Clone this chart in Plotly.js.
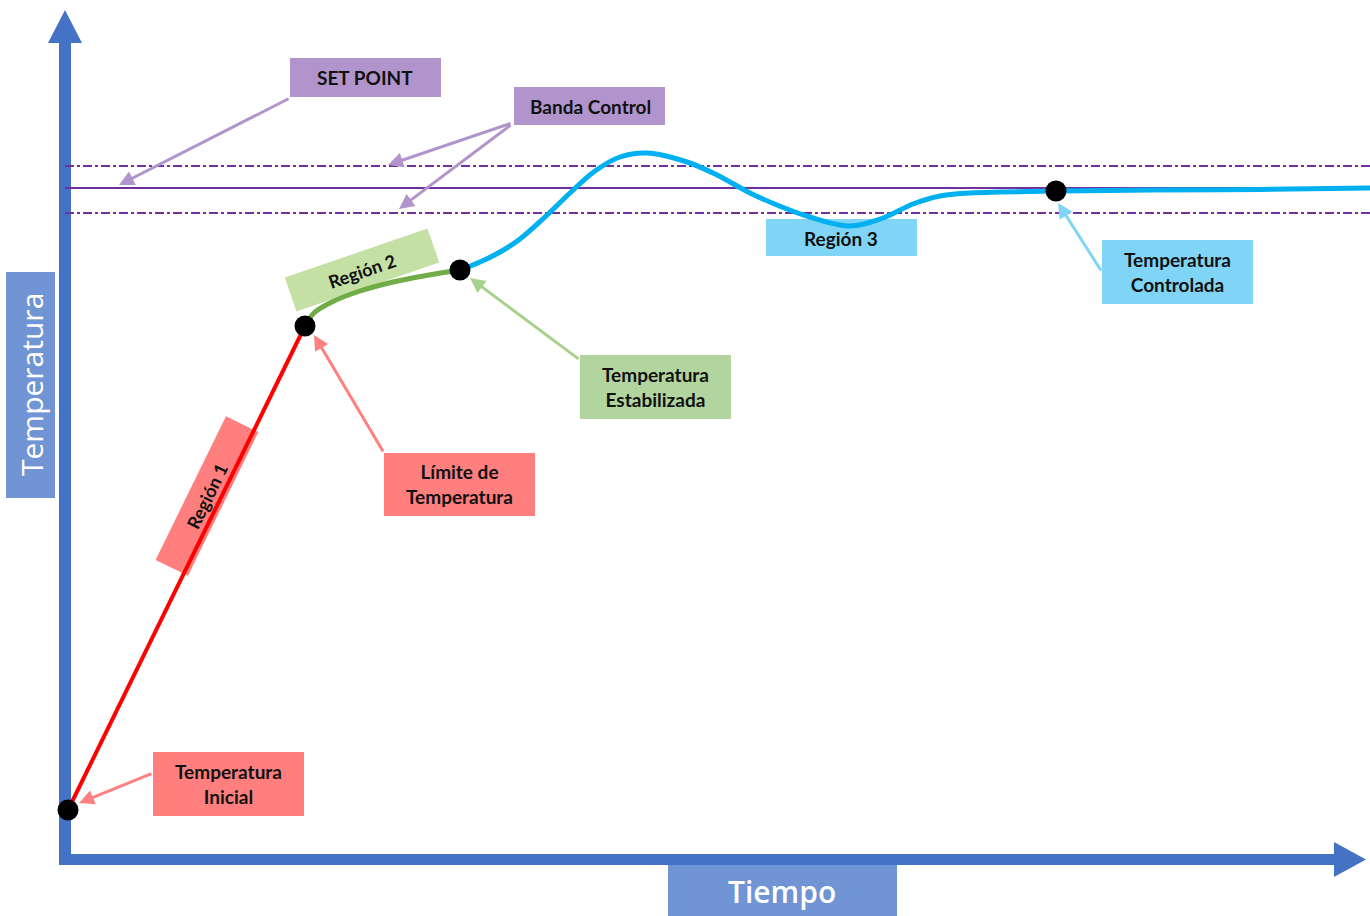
<!DOCTYPE html>
<html>
<head>
<meta charset="utf-8">
<script src="https://cdn.plot.ly/plotly-3.0.1.min.js"></script>
<style>
  html, body { margin: 0; padding: 0; background: #fff; }
  #chart { width: 1370px; height: 916px; }
</style>
</head>
<body>
<div id="chart"></div>
<script>
// Curve points (x = tiempo, y = temperatura in screen units, top = 0)
const region1Time = [68, 305];
const region1Temp = [810, 326];

const region2Time = [305, 314, 332, 357, 393, 429, 460];
const region2Temp = [326, 313, 302, 292, 282, 275, 270];

const region3Time = [460, 480, 500, 520, 545, 570, 595, 620, 647, 687, 717, 750, 777, 807, 850, 883, 913, 940, 970, 1000, 1056, 1150, 1260, 1370];
const region3Temp = [270, 262, 252, 239, 217, 193, 171, 157, 153, 162, 175, 193, 205, 216, 226, 218, 204, 196, 193, 192, 191, 190, 189.5, 188];

const keyTime = [68, 305, 460, 1056];
const keyTemp = [810, 326, 270, 191];

const setPoint = 188;
const bandHigh = 166;
const bandLow = 213;
const lineStart = 65;
const lineEnd = 1370;

const FONT = 'Lato, "Open Sans", sans-serif';

function rectShape(x0, x1, y0, y1, color) {
  return {
    type: 'rect', xref: 'x', yref: 'y', x0, x1, y0, y1,
    fillcolor: color, line: { width: 0 }, layer: 'below',
  };
}

// rotated box drawn as a path (centre, length, thickness, angle in degrees)
function rotatedBox(cx, cy, len, thick, deg, color) {
  const a = (deg * Math.PI) / 180;
  const ux = Math.cos(a), uy = Math.sin(a);
  const vx = -uy, vy = ux;
  const hl = len / 2, ht = thick / 2;
  const pts = [
    [cx - ux * hl - vx * ht, cy - uy * hl - vy * ht],
    [cx + ux * hl - vx * ht, cy + uy * hl - vy * ht],
    [cx + ux * hl + vx * ht, cy + uy * hl + vy * ht],
    [cx - ux * hl + vx * ht, cy - uy * hl + vy * ht],
  ];
  const path = 'M ' + pts.map((p) => p[0].toFixed(1) + ',' + p[1].toFixed(1)).join(' L ') + ' Z';
  return { type: 'path', xref: 'x', yref: 'y', path, fillcolor: color, line: { width: 0 }, layer: 'below' };
}

function label(x, y, text, opts = {}) {
  return Object.assign({
    x, y, xref: 'x', yref: 'y', text, showarrow: false,
    xanchor: 'center', yanchor: 'middle',
    font: { family: FONT, size: 19, color: '#111' },
  }, opts);
}

function arrow(tailX, tailY, headX, headY, color) {
  return {
    x: headX, y: headY, ax: tailX, ay: tailY,
    xref: 'x', yref: 'y', axref: 'x', ayref: 'y',
    text: '', showarrow: true, arrowhead: 2, arrowsize: 1, arrowwidth: 3,
    arrowcolor: color, standoff: 0,
  };
}

const AXIS = '#4472c4';
const PURPLE_BOX = '#b294cd';
const RED_BOX = '#ff7f7f';
const GREEN_BOX = '#c5e0a5';
const GREEN_BOX2 = '#b2d59f';
const BLUE_BOX = '#80d5f6';
const TITLE_BOX = '#7094d4';

const traces = [
  {
    x: [lineStart, lineEnd], y: [setPoint, setPoint], mode: 'lines',
    line: { color: '#7030a0', width: 1.8 }, hoverinfo: 'skip',
  },
  {
    x: [lineStart, lineEnd], y: [bandHigh, bandHigh], mode: 'lines',
    line: { color: '#7030a0', width: 1.8, dash: 'dashdot' }, hoverinfo: 'skip',
  },
  {
    x: [lineStart, lineEnd], y: [bandLow, bandLow], mode: 'lines',
    line: { color: '#7030a0', width: 1.8, dash: 'dashdot' }, hoverinfo: 'skip',
  },
  {
    x: region1Time, y: region1Temp, mode: 'lines',
    line: { color: '#ff0000', width: 4 }, hoverinfo: 'skip',
  },
  {
    x: region2Time, y: region2Temp, mode: 'lines',
    line: { color: '#70ad47', width: 5, shape: 'spline' }, hoverinfo: 'skip',
  },
  {
    x: region3Time, y: region3Temp, mode: 'lines',
    line: { color: '#00b0f0', width: 5, shape: 'spline' }, hoverinfo: 'skip',
  },
  {
    x: keyTime, y: keyTemp, mode: 'markers',
    marker: { color: '#000', size: 21 }, hoverinfo: 'skip',
  },
];

const shapes = [
  // axes with arrowheads
  rectShape(59, 71, 42, 865, AXIS),
  { type: 'path', path: 'M 48,43 L 82,43 L 65,10 Z', fillcolor: AXIS, line: { width: 0 }, layer: 'below' },
  rectShape(59, 1336, 854, 865, AXIS),
  { type: 'path', path: 'M 1334,842 L 1334,877 L 1366,859.5 Z', fillcolor: AXIS, line: { width: 0 }, layer: 'below' },
  // axis title boxes
  rectShape(6, 55, 272, 498, TITLE_BOX),
  rectShape(668, 897, 865, 916, TITLE_BOX),
  // callout boxes
  rectShape(290, 441, 58, 97, PURPLE_BOX),
  rectShape(514, 665, 87, 125, PURPLE_BOX),
  rectShape(384, 535, 453, 516, RED_BOX),
  rectShape(153, 304, 752, 816, RED_BOX),
  rectShape(580, 731, 355, 419, GREEN_BOX2),
  rectShape(766, 917, 219, 256, BLUE_BOX),
  rectShape(1102, 1253, 240, 304, BLUE_BOX),
  rotatedBox(207, 496, 160, 36, -63.9, RED_BOX),
  rotatedBox(362, 270, 151, 36, -19, GREEN_BOX),
];

const annotations = [
  label(31, 385, 'Temperatura', { textangle: -90, font: { family: '"Open Sans", sans-serif', size: 30, color: '#fff' } }),
  label(782, 891, 'Tiempo', { font: { family: '"Open Sans", sans-serif', size: 30, color: '#fff', weight: 600 } }),
  label(365, 77, '<b>SET POINT</b>'),
  label(590, 106, '<b>Banda Control</b>'),
  label(459, 484, '<b>Límite de<br>Temperatura</b>'),
  label(228, 784, '<b>Temperatura<br>Inicial</b>'),
  label(655, 387, '<b>Temperatura<br>Estabilizada</b>'),
  label(841, 238, '<b>Región 3</b>'),
  label(1177, 272, '<b>Temperatura<br>Controlada</b>'),
  label(207, 496, '<b>Región 1</b>', { textangle: -64, font: { family: FONT, size: 18, color: '#111' } }),
  label(362, 271, '<b>Región 2</b>', { textangle: -19, font: { family: FONT, size: 18, color: '#111' } }),
  arrow(290, 98, 119, 185, PURPLE_BOX),
  arrow(512, 123, 388, 165, PURPLE_BOX),
  arrow(512, 124, 399, 209, PURPLE_BOX),
  arrow(384, 453, 314, 335, '#ff8080'),
  arrow(580, 360, 470, 278, '#a9d18e'),
  arrow(1102, 272, 1058, 203, BLUE_BOX),
  arrow(153, 773, 79, 803, '#ff8080'),
];

const layout = {
  width: 1370,
  height: 916,
  margin: { l: 0, r: 0, t: 0, b: 0 },
  paper_bgcolor: '#fff',
  plot_bgcolor: '#fff',
  showlegend: false,
  xaxis: { range: [0, 1370], visible: false, fixedrange: true },
  yaxis: { range: [916, 0], visible: false, fixedrange: true },
  shapes,
  annotations,
};

Plotly.newPlot('chart', traces, layout, { staticPlot: true, displayModeBar: false });
</script>
</body>
</html>
